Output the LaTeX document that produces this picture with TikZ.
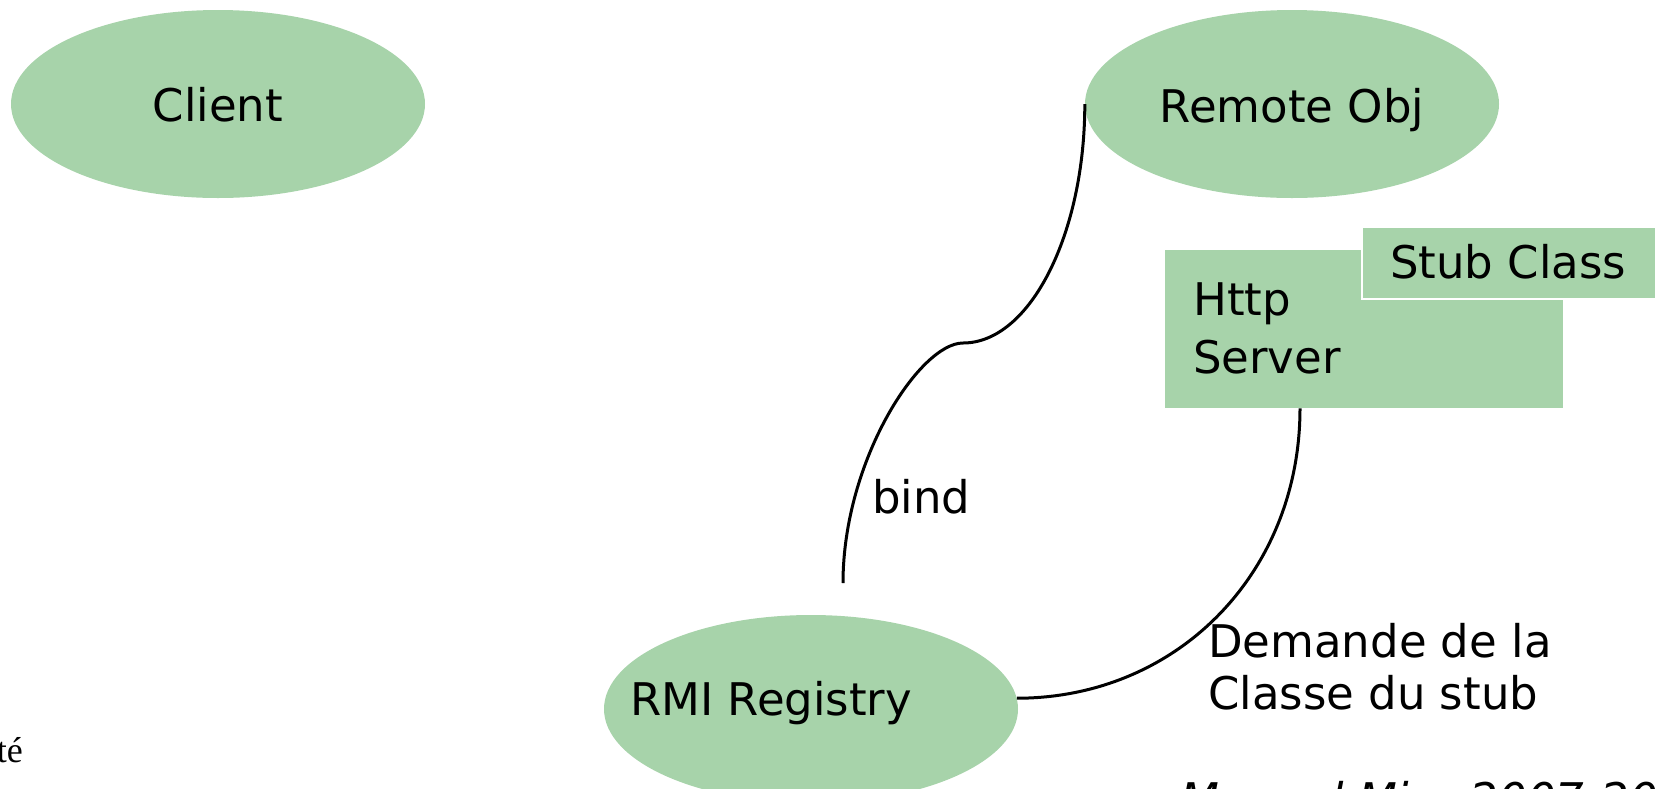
\documentclass[tikz,border=0pt]{standalone}
\usepackage{fontspec}
\setmainfont{DejaVu Sans}
\newfontfamily\serifface{Liberation Serif}
\usetikzlibrary{shapes.geometric}
\definecolor{nodegreen}{RGB}{167,211,170}

\begin{document}
\begin{tikzpicture}[x=1pt,y=-1pt,
  blob/.style={ellipse, fill=nodegreen, inner sep=0pt,
               minimum width=414pt, minimum height=188pt},
  box/.style={fill=nodegreen, inner sep=0pt, anchor=north west},
  lbl/.style={inner sep=0pt, anchor=base west, font=\fontsize{45}{46}\selectfont},
  link/.style={draw=black, line width=3pt}]
\useasboundingbox (0,0) rectangle (1655,788);
\clip (0,0) rectangle (1655,788);

% ellipses
\node[blob] (client)   at (218,104) {};
\node[blob] (remote)   at (1292,104) {};
\node[blob] (registry) at (811,709) {};

% boxes
\node[box, minimum width=398pt, minimum height=158pt] (http) at (1165,250) {};
\node[box, draw=white, line width=2pt, minimum width=310pt, minimum height=72pt] (stub) at (1361,226) {};

% texts
\node[lbl, anchor=base] (clienttxt) at (218,121) {Client};
\node[lbl, anchor=base] (remotetxt) at (1292,122) {Remote Obj};
\node[lbl] (registrytxt) at (630,715) {RMI Registry};
\node[lbl] (httptxt) at (1193,315)
  {\fontsize{45}{58}\selectfont\begin{tabular}[t]{@{}l@{}}Http\\Server\end{tabular}};
\node[lbl] (stubtxt) at (1390,278) {Stub Class};
\node[lbl] (bindtxt) at (872,513) {bind};
\node[lbl] (demandetxt) at (1208,657)
  {\fontsize{45}{52}\selectfont\begin{tabular}[t]{@{}l@{}}Demande de la\\Classe du stub\end{tabular}};

% footer lines
\node[lbl, font=\fontsize{45}{46}\selectfont\itshape] (author) at (1180,815) {Manuel Mira 2007-2008};
\node[inner sep=0pt, anchor=base east, font=\serifface\fontsize{36}{36}\selectfont] (univ) at (23,762) {Universit\'e};

% connectors
\coordinate (bindmid) at (963,343);
\coordinate (bindend) at (843,583);
\draw[link] (remote.west) .. controls +(0,130) and +(67,0) .. (bindmid)
            .. controls +(-43,0) and +(0,-123) .. (bindend);
\draw[link] ([xshift=135pt]http.south west) .. controls +(0,165) and +(160,0) .. (registry.3);
\end{tikzpicture}
\end{document}
